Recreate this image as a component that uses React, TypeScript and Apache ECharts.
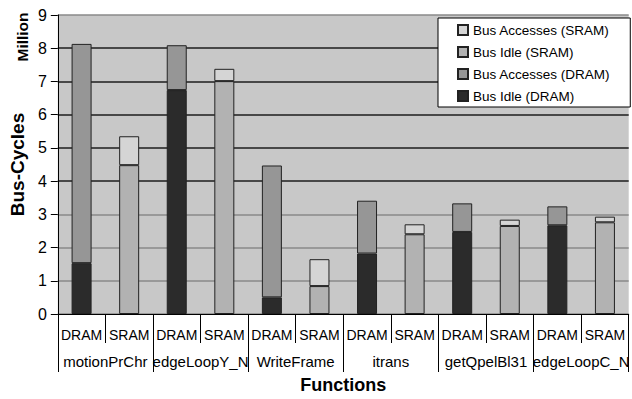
import React, { useEffect, useRef } from "react";
import * as echarts from "echarts";

const memTypes = ["DRAM", "SRAM", "DRAM", "SRAM", "DRAM", "SRAM", "DRAM", "SRAM", "DRAM", "SRAM", "DRAM", "SRAM"];
const functions = ["motionPrChr", "edgeLoopY_N", "WriteFrame", "itrans", "getQpelBl31", "edgeLoopC_N"];

const busIdleDRAM = [1.53, 6.74, 0.5, 1.82, 2.47, 2.67];
const busAccDRAM = [6.6, 1.35, 3.97, 1.59, 0.86, 0.57];
const busIdleSRAM = [4.48, 7.01, 0.84, 2.4, 2.65, 2.76];
const busAccSRAM = [0.87, 0.37, 0.81, 0.3, 0.19, 0.17];

const yTicks = [0, 1, 2, 3, 4, 5, 6, 7, 8, 9];

const FONT = 'Arial, "Liberation Sans", sans-serif';

function spread(vals: number[], slot: number): (number | string)[] {
  const out: (number | string)[] = [];
  vals.forEach((v) => {
    if (slot === 0) out.push(v, "-");
    else out.push("-", v);
  });
  return out;
}

export default function App() {
  const ref = useRef<HTMLDivElement>(null);
  useEffect(() => {
    document.body.style.margin = "0";
    const chart = echarts.init(ref.current!, undefined, { renderer: "svg" });
    const border = { borderColor: "#222", borderWidth: 1 };
    const mk = (name: string, data: (number | string)[], color: string) => ({
      name,
      type: "bar",
      stack: "total",
      barWidth: 20,
      data,
      itemStyle: { color, ...border },
      xAxisIndex: 0,
    });
    const gridColors = yTicks.map((v) => (v >= 4 && v <= 8 ? "#1e1e1e" : "#8a8a8a"));
    chart.setOption({
      animation: false,
      backgroundColor: "#fff",
      textStyle: { fontFamily: FONT },
      grid: {
        left: 55,
        right: 0,
        top: 15,
        bottom: 85,
        show: true,
        backgroundColor: "#c8c8c8",
        borderWidth: 0,
      },
      legend: {
        data: ["Bus Accesses (SRAM)", "Bus Idle (SRAM)", "Bus Accesses (DRAM)", "Bus Idle (DRAM)"],
        orient: "vertical",
        left: 438,
        top: 18,
        padding: [5, 20, 4, 19],
        itemGap: 8,
        itemWidth: 10,
        itemHeight: 10,
        icon: "rect",
        backgroundColor: "#fff",
        borderColor: "#000",
        borderWidth: 1,
        borderRadius: 0,
        textStyle: { fontFamily: FONT, fontSize: 13.5, lineHeight: 14, color: "#000" },
      },
      xAxis: [
        {
          type: "category",
          data: memTypes,
          position: "bottom",
          axisLine: { show: true, lineStyle: { color: "#000", width: 1 } },
          axisTick: { show: true, length: 29, interval: 0, lineStyle: { color: "#000" } },
          axisLabel: { interval: 0, margin: 14, fontSize: 14, color: "#000", fontFamily: FONT },
        },
        {
          type: "category",
          data: functions,
          position: "bottom",
          axisLine: { show: false },
          axisTick: { show: true, length: 58, interval: 0, lineStyle: { color: "#000" } },
          axisLabel: { interval: 0, margin: 40, fontSize: 15, color: "#000", fontFamily: FONT },
          name: "Functions",
          nameLocation: "middle",
          nameGap: 62,
          nameTextStyle: { fontSize: 18, fontWeight: "bold", color: "#000", fontFamily: FONT },
        },
      ],
      yAxis: {
        type: "value",
        min: 0,
        max: 9,
        interval: 1,
        name: "Bus-Cycles",
        nameLocation: "middle",
        nameRotate: 90,
        nameGap: 24,
        nameTextStyle: { fontSize: 19, fontWeight: "bold", color: "#000", fontFamily: FONT },
        axisLine: { show: true, lineStyle: { color: "#000", width: 1 } },
        axisTick: { show: true, length: 7, inside: false, lineStyle: { color: "#000" } },
        axisLabel: { margin: 11, fontSize: 16, color: "#000", fontFamily: FONT },
        splitLine: { show: true, lineStyle: { color: gridColors, width: 1.5 } },
      },
      graphic: [
        {
          type: "text",
          x: 22,
          y: 37,
          rotation: Math.PI / 2,
          style: {
            text: "Million",
            fontSize: 15.5,
            fontWeight: "bold",
            fontFamily: FONT,
            fill: "#000",
            align: "center",
            verticalAlign: "middle",
          },
        },
      ],
      series: [
        mk("Bus Idle (DRAM)", spread(busIdleDRAM, 0), "#2b2b2b"),
        mk("Bus Accesses (DRAM)", spread(busAccDRAM, 0), "#969696"),
        mk("Bus Idle (SRAM)", spread(busIdleSRAM, 1), "#b2b2b2"),
        mk("Bus Accesses (SRAM)", spread(busAccSRAM, 1), "#d5d5d5"),
      ],
    });
    return () => chart.dispose();
  }, []);
  return <div ref={ref} style={{ width: 632, height: 399 }} />;
}
